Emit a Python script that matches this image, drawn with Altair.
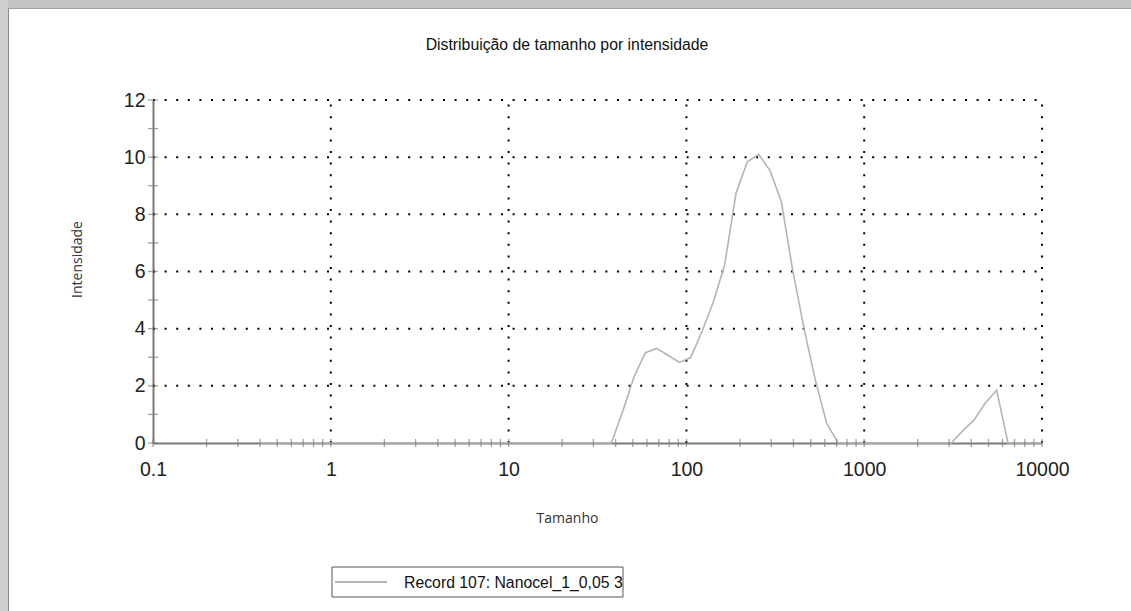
import altair as alt
import pandas as pd

# Size classes (d.nm) and intensity (%) of the measured distribution
sizes = [0.4, 0.4632, 0.5365, 0.6213, 0.7195, 0.8332, 0.9649, 1.117, 1.294, 1.499,
         1.736, 2.01, 2.328, 2.696, 3.122, 3.615, 4.187, 4.849, 5.615, 6.503,
         7.531, 8.721, 10.1, 11.7, 13.54, 15.69, 18.17, 21.04, 24.36, 28.21,
         32.67, 37.84, 43.82, 50.75, 58.77, 68.06, 78.82, 91.28, 105.7, 122.4,
         141.8, 164.2, 190.1, 220.2, 255.0, 295.3, 342.0, 396.1, 458.7, 531.2,
         615.1, 712.4, 825.0, 955.4, 1106, 1281, 1484, 1718, 1990, 2305,
         2669, 3091, 3580, 4145, 4801, 5560, 6439, 7456, 8635, 10000]
intensity = [0, 0, 0, 0, 0, 0, 0, 0, 0, 0,
             0, 0, 0, 0, 0, 0, 0, 0, 0, 0,
             0, 0, 0, 0, 0, 0, 0, 0, 0, 0,
             0, 0, 1.1, 2.32, 3.16, 3.31, 3.07, 2.82, 2.99, 3.9,
             4.94, 6.23, 8.74, 9.84, 10.1, 9.53, 8.44, 6.05, 4.01, 2.2,
             0.69, 0, 0, 0, 0, 0, 0, 0, 0, 0,
             0, 0, 0.43, 0.8, 1.4, 1.85, 0, 0, 0, 0]
record = "Record 107: Nanocel_1_0,05 3"
chart_title = "Distribuição de tamanho por intensidade"

x_labels = [0.1, 1, 10, 100, 1000, 10000]
x_grid = [1, 10, 100, 1000, 10000]
y_labels = [0, 2, 4, 6, 8, 10, 12]
y_grid = [2, 4, 6, 8, 10, 12]
y_minor = [1, 3, 5, 7, 9, 11]

W, H = 889, 343
PAD_L, PAD_T = 153, 100
LINE_COLOR = "#b4b4b4"

x_ticks = [d * m for d in x_labels[:-1] for m in range(1, 10)] + [x_labels[-1]]
y_ticks = y_labels + y_minor

xs = alt.Scale(type="log", domain=[0.1, 10000], nice=False)
ys = alt.Scale(domain=[0, 12], nice=False, zero=True)

dist = pd.DataFrame({"size": sizes, "intensity": intensity})
gx = pd.DataFrame({"x": x_grid, "y0": 0, "y1": 12})
gy = pd.DataFrame({"y": y_grid, "x0": 0.1, "x1": 10000})
tx = pd.DataFrame({"x": x_ticks, "y": 0})
ty = pd.DataFrame({"y": y_ticks, "x": 0.1})
one = pd.DataFrame({"k": [0]})

# Window frame: grey bands at the top and left edges
frame_top = alt.Chart(one).mark_rect(color="#c4c4c4").encode(
    x=alt.value(-PAD_L), x2=alt.value(1131 - PAD_L),
    y=alt.value(-PAD_T), y2=alt.value(-PAD_T + 8))
frame_left = alt.Chart(one).mark_rect(color="#cfcfcf").encode(
    x=alt.value(-PAD_L), x2=alt.value(-PAD_L + 8),
    y=alt.value(-PAD_T), y2=alt.value(611 - PAD_T))
frame_edge = alt.Chart(one).mark_rule(color="#8a8a8a", strokeWidth=1).encode(
    x=alt.value(-PAD_L + 8.5), y=alt.value(-PAD_T + 8), y2=alt.value(611 - PAD_T))
frame_edge_top = alt.Chart(one).mark_rule(color="#a0a0a0", strokeWidth=1).encode(
    x=alt.value(-PAD_L + 8), x2=alt.value(1131 - PAD_L), y=alt.value(-PAD_T + 8.5))

# Chart title, centred on the window
title = alt.Chart(one).mark_text(
    font="Liberation Sans", fontSize=15.8, color="#111111", align="center", baseline="alphabetic"
).encode(x=alt.value(567 - PAD_L), y=alt.value(50 - PAD_T), text=alt.value(chart_title))

dots = dict(color="#000000", strokeWidth=2, strokeDash=[2, 9.6], strokeCap="butt")

grid_v = alt.Chart(gx).mark_rule(**dots).encode(
    x=alt.X("x:Q", scale=xs), y=alt.Y("y0:Q", scale=ys), y2="y1:Q")
grid_h = alt.Chart(gy).mark_rule(**dots).encode(
    y=alt.Y("y:Q", scale=ys), x=alt.X("x0:Q", scale=xs), x2="x1:Q")

ticks_x = alt.Chart(tx).mark_tick(orient="vertical", color="#7a7a7a", size=8, thickness=1.3).encode(
    x=alt.X("x:Q", scale=xs), y=alt.Y("y:Q", scale=ys))
ticks_y = alt.Chart(ty).mark_tick(orient="horizontal", color="#7a7a7a", size=10, thickness=1.3).encode(
    y=alt.Y("y:Q", scale=ys), x=alt.X("x:Q", scale=xs))

line = alt.Chart(dist).mark_line(strokeWidth=1.6, color=LINE_COLOR).encode(
    x=alt.X("size:Q", scale=xs,
            axis=alt.Axis(values=x_labels, format="~g", title="Tamanho",
                          ticks=False, grid=False, labelFlush=False, labelOverlap=False,
                          labelPadding=17, titleX=414, titleY=75, titleBaseline="middle")),
    y=alt.Y("intensity:Q", scale=ys,
            axis=alt.Axis(values=y_labels, title="Intensidade", ticks=False, grid=False,
                          labelPadding=8, titleAngle=-90, titleX=-76, titleY=159,
                          titleBaseline="middle", titleAlign="center")),
)

# Boxed legend below the plot
leg_box = alt.Chart(one).mark_rect(fill="#ffffff", stroke="#555555", strokeWidth=1).encode(
    x=alt.value(332 - PAD_L), x2=alt.value(623 - PAD_L),
    y=alt.value(567 - PAD_T), y2=alt.value(597 - PAD_T))
leg_line = alt.Chart(one).mark_rule(color=LINE_COLOR, strokeWidth=2).encode(
    x=alt.value(335 - PAD_L), x2=alt.value(387 - PAD_L), y=alt.value(582 - PAD_T))
leg_text = alt.Chart(one).mark_text(
    font="Liberation Sans", fontSize=15.8, color="#111111", align="left", baseline="middle"
).encode(x=alt.value(404 - PAD_L), y=alt.value(582.5 - PAD_T), text=alt.value(record))

chart = alt.layer(
    frame_top, frame_left, frame_edge, frame_edge_top, title,
    grid_v, grid_h, line, ticks_x, ticks_y,
    leg_box, leg_line, leg_text,
).properties(
    width=W, height=H,
    autosize=alt.AutoSizeParams(type="none"),
    padding={"left": PAD_L, "top": PAD_T, "right": 1131 - PAD_L - W, "bottom": 611 - PAD_T - H},
    background="#ffffff",
).configure_view(stroke=None).configure_axis(
    domainColor="#7a7a7a", domainWidth=2,
    labelFont="Liberation Sans", labelFontSize=19.5, labelColor="#222222",
    titleFont="Open Sans", titleFontSize=14, titleFontWeight="normal", titleColor="#333333",
)

chart.save("out.html", embed_options={"renderer": "svg", "actions": False})
